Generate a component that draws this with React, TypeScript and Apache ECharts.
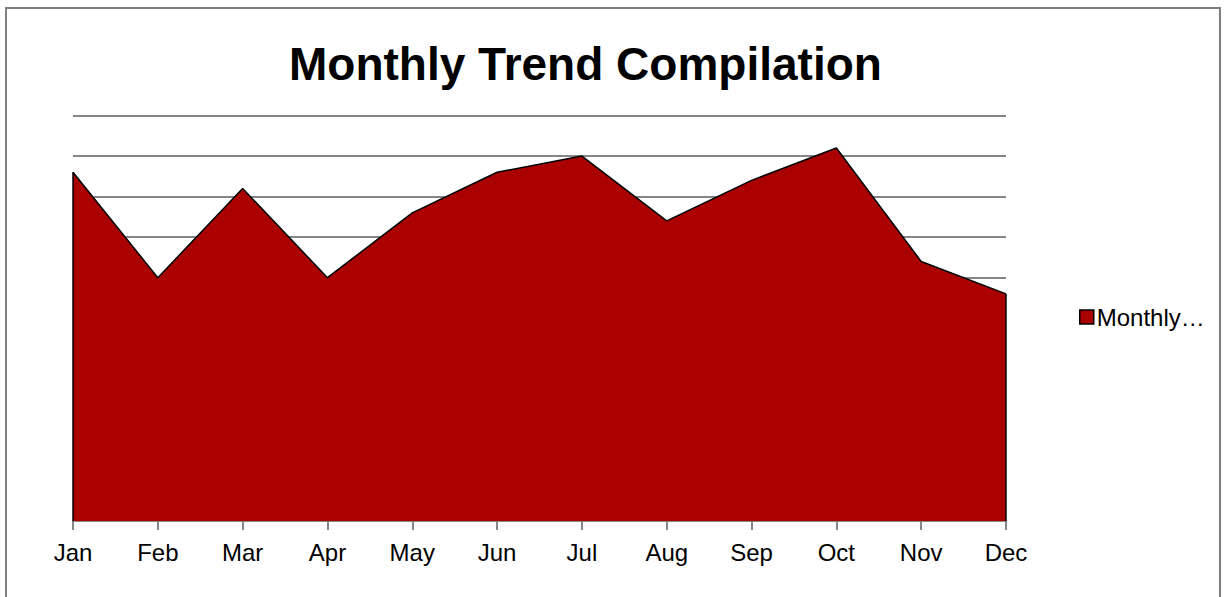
import React, { useEffect, useRef } from "react";
import * as echarts from "echarts";

const months = ["Jan", "Feb", "Mar", "Apr", "May", "Jun", "Jul", "Aug", "Sep", "Oct", "Nov", "Dec"];
const values = [8.6, 6.0, 8.2, 6.0, 7.6, 8.6, 9.0, 7.4, 8.4, 9.2, 6.4, 5.6];
const seriesName = "Monthly Trend";
const titleText = "Monthly Trend Compilation";

const FONT = "'Liberation Sans', Arial, sans-serif";

export default function App() {
  const ref = useRef<HTMLDivElement>(null);
  useEffect(() => {
    if (!ref.current) return;
    const chart = echarts.init(ref.current, null, { renderer: "svg" });
    const last = months.length - 1;
    chart.setOption({
      animation: false,
      backgroundColor: "#ffffff",
      title: {
        text: titleText,
        left: 289,
        top: 41,
        padding: 0,
        textStyle: { fontFamily: FONT, fontSize: 46, fontWeight: "bold", color: "#000000" },
      },
      legend: {
        orient: "vertical",
        left: 1079,
        top: 305,
        padding: 0,
        icon: "rect",
        itemWidth: 14,
        itemHeight: 14,
        itemGap: 5,
        formatter: () => "Monthly…",
        textStyle: { fontFamily: FONT, fontSize: 24, color: "#000000", padding: [0, 0, 0, -2] },
        itemStyle: { borderColor: "#000000", borderWidth: 1.5 },
      },
      grid: { left: 73, right: 218, top: 115.5, bottom: 76, containLabel: false },
      xAxis: {
        type: "category",
        data: months,
        boundaryGap: false,
        axisLine: { show: true, lineStyle: { color: "#868686", width: 2 } },
        axisTick: { show: true, alignWithLabel: true, length: 9, lineStyle: { color: "#868686", width: 2 } },
        axisLabel: { fontFamily: FONT, fontSize: 24, color: "#000000", margin: 19 },
        splitLine: { show: false },
      },
      yAxis: {
        type: "value",
        min: 0,
        max: 10,
        interval: 1,
        axisLine: { show: false },
        axisTick: { show: false },
        axisLabel: { show: false },
        splitLine: { show: true, lineStyle: { color: "#868686", width: 2 } },
      },
      graphic: [
        {
          type: "rect",
          shape: { x: 6, y: 8, width: 1214, height: 620 },
          style: { fill: "none", stroke: "#7f7f7f", lineWidth: 2 },
          silent: true,
        },
      ],
      series: [
        {
          name: seriesName,
          type: "line",
          data: values,
          symbol: "none",
          lineStyle: { color: "#000000", width: 1.5 },
          itemStyle: { color: "#AA0000", borderColor: "#000000" },
          areaStyle: { color: "#AA0000", opacity: 1 },
          markLine: {
            silent: true,
            symbol: "none",
            label: { show: false },
            lineStyle: { color: "#000000", width: 1.5, type: "solid" },
            data: [
              [
                { xAxis: months[0], yAxis: 0 },
                { xAxis: months[0], yAxis: values[0] },
              ],
              [
                { xAxis: months[last], yAxis: 0 },
                { xAxis: months[last], yAxis: values[last] },
              ],
            ],
          },
        },
      ],
    });
    return () => chart.dispose();
  }, []);
  return (
    <div
      ref={ref}
      style={{ position: "absolute", left: 0, top: 0, width: 1224, height: 597 }}
    />
  );
}
